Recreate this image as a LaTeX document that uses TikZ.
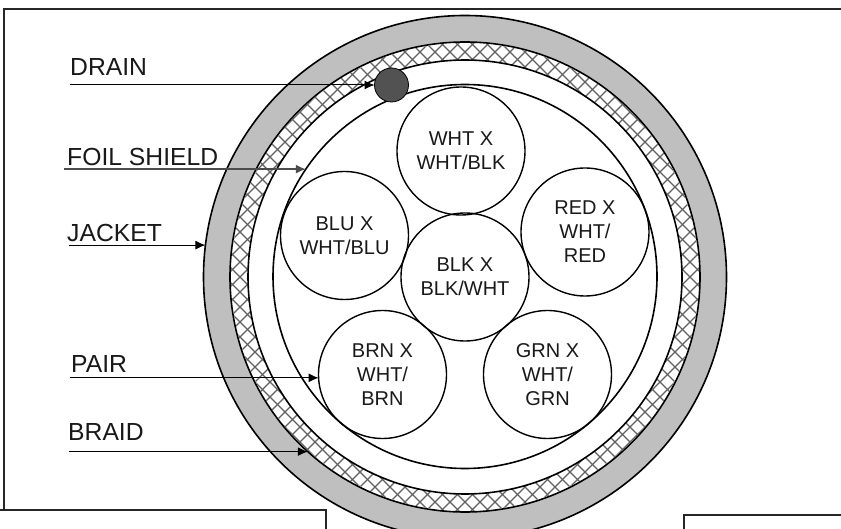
\documentclass[tikz,border=0pt]{standalone}
\usepackage{fontspec}
\setmainfont{Liberation Sans}
\newcommand{\labfont}{\fontsize{24.7}{28}\selectfont}
\newcommand{\pairfont}{\fontsize{20}{24}\selectfont}
\usetikzlibrary{arrows.meta}
\tikzset{
  ring/.style={circle,draw=black,line width=1.6pt,inner sep=0pt,outer sep=0pt,minimum size=#1*2pt},
  pairc/.style={circle,draw=black,line width=1.4pt,inner sep=0pt,outer sep=0pt,minimum size=#1*2pt,align=center,font=\pairfont,text=black!90},
  lab/.style={anchor=base west,inner sep=0pt,font=\labfont,text=black!90},
  lead/.style={draw=black,line width=1pt,-{Latex[length=10pt,width=9pt]}},
  frame/.style={draw=black!85,line width=1.8pt},
  hatch/.style={draw=black!62,line width=1.1pt},
}
\begin{document}
\begin{tikzpicture}[x=1pt,y=-1pt]
\useasboundingbox (0,0) rectangle (841,529);
\clip (0,0) rectangle (841,529);
\fill[white] (0,0) rectangle (841,529);
\draw[frame] (841,9) -- (4,9) -- (4,510);
\draw[frame] (0,510) -- (326,510) -- (326,529);
\draw[frame] (841,515) -- (684,515) -- (684,529);
\node[ring=261.5,fill=black!25] (jacket) at (465,277) {};
\node[ring=235,fill=white] (braid) at (465,277) {};
\begin{scope}
  \clip (465,277) circle[radius=234];
  \foreach \k in {-50,...,50}{
    \draw[hatch] (465+\k*15-300,277-300) -- (465+\k*15+300,277+300);
    \draw[hatch] (465+\k*15+300,277-300) -- (465+\k*15-300,277+300);
  }
\end{scope}
\node[ring=217,fill=white] (core) at (465,277) {};
\node[ring=192] (foil) at (465,276.5) {};
\node[pairc=64] (wht) at (461,151) {WHT X\\WHT/BLK};
\node[pairc=64] (blu) at (344.5,235.5) {BLU X\\WHT/BLU};
\node[pairc=64] (red) at (585,232) {RED X\\WHT/\\RED};
\node[pairc=64] (blk) at (465,277) {BLK X\\BLK/WHT};
\node[pairc=64] (brn) at (382.5,374.5) {BRN X\\WHT/\\BRN};
\node[pairc=64] (grn) at (547.5,374.5) {GRN X\\WHT/\\GRN};
\node[circle,draw=black,line width=0.8pt,fill=black!68,minimum size=34pt,inner sep=0pt,outer sep=0pt] (drain) at (391.5,85) {};
\node[lab] (tdrain) at (70,76) {DRAIN};
\node[lab] (tfoil) at (67,165.7) {FOIL SHIELD};
\node[lab] (tjacket) at (67,241.7) {JACKET};
\node[lab] (tpair) at (71,373) {PAIR};
\node[lab] (tbraid) at (68,440) {BRAID};
\coordinate (sdrain) at (70,85);
\coordinate (sfoil) at (64,170);
\coordinate (sjacket) at (69,248);
\coordinate (spair) at (70,378);
\coordinate (sbraid) at (69,452);
\draw[lead] (drain.west -| sdrain) -- (drain.west);
\draw[lead,draw=black!70,line width=1.4pt] (foil.146.3 -| sfoil) -- (foil.146.3);
\draw[lead] (jacket.173.6 -| sjacket) -- (jacket.173.6);
\draw[lead] (brn.183.1 -| spair) -- (brn.183.1);
\draw[lead] (braid.228.1 -| sbraid) -- (braid.228.1);
\end{tikzpicture}
\end{document}
